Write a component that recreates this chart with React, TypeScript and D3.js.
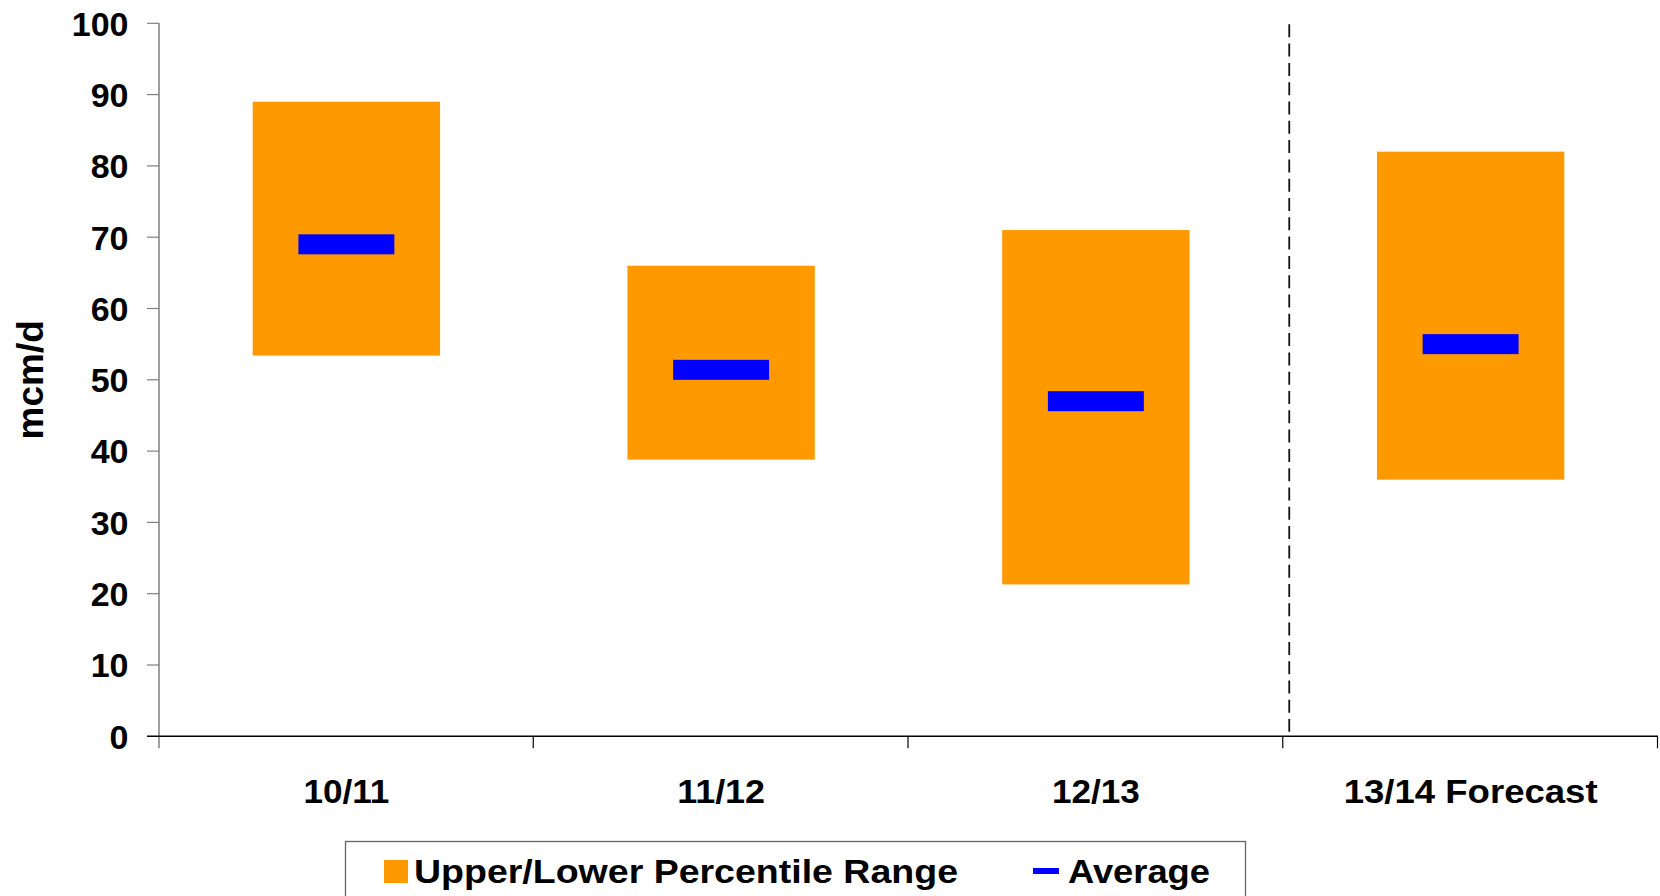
import React from 'react';
import * as d3 from 'd3';

// Seasonal demand ranges (mcm/d)
const categories = ['10/11', '11/12', '12/13', '13/14 Forecast'];
const upperPercentile = [89, 66, 71, 82];
const lowerPercentile = [53.4, 38.8, 21.3, 36];
const averageValues = [69, 51.4, 47, 55];
const yTickValues = [0, 10, 20, 30, 40, 50, 60, 70, 80, 90, 100];
const forecastCategory = '13/14 Forecast';
const legendLabels = ['Upper/Lower Percentile Range', 'Average'];
const yAxisTitle = 'mcm/d';

const WIDTH = 1660;
const HEIGHT = 896;
const FONT = "'Liberation Sans', Arial, Helvetica, sans-serif";
const ORANGE = '#FF9900';
const BLUE = '#0000FF';
const AXIS_GREY = '#808080';

// Rendered widths for the wider-set label text
const categoryLabelWidth: Record<string, number> = {
  '10/11': 86,
  '11/12': 88,
  '12/13': 88,
  '13/14 Forecast': 254,
};
const legendLabelWidth = [544, 142];

export default function App() {
  const x = d3.scaleBand<string>().domain(categories).range([159, 1658]).paddingInner(0).paddingOuter(0);
  const y = d3.scaleLinear().domain([0, 100]).range([736.3, 23.3]);
  const bw = x.bandwidth();

  const boxWidth = bw * 0.5;
  const markerWidth = bw * 0.256;
  const markerHeight = 20;

  const boundaries = categories.map((c) => x(c) as number).concat([x.range()[1]]);
  const dividerX = (x(forecastCategory) as number) + 6;

  return (
    <svg
      width={WIDTH}
      height={HEIGHT}
      style={{ position: 'absolute', left: 0, top: 0, background: '#fff' }}
      fontFamily={FONT}
      fontWeight="bold"
    >
      <rect x={0} y={0} width={WIDTH} height={HEIGHT} fill="#fff" />

      {/* percentile range boxes */}
      {categories.map((c, i) => (
        <rect
          key={`box-${c}`}
          x={(x(c) as number) + (bw - boxWidth) / 2}
          y={y(upperPercentile[i])}
          width={boxWidth}
          height={y(lowerPercentile[i]) - y(upperPercentile[i])}
          fill={ORANGE}
        />
      ))}

      {/* average markers */}
      {categories.map((c, i) => (
        <rect
          key={`avg-${c}`}
          x={(x(c) as number) + (bw - markerWidth) / 2}
          y={y(averageValues[i]) - markerHeight / 2}
          width={markerWidth}
          height={markerHeight}
          fill={BLUE}
        />
      ))}

      {/* forecast divider */}
      <line
        x1={dividerX}
        x2={dividerX}
        y1={y(100) + 1}
        y2={y(0) - 4.5}
        stroke="#111"
        strokeWidth={1.8}
        strokeDasharray="13 6.3"
      />

      {/* y axis */}
      <line x1={159} x2={159} y1={y(100)} y2={y(0) + 12} stroke={AXIS_GREY} strokeWidth={1.5} />
      {yTickValues.map((t) => (
        <g key={`yt-${t}`}>
          {t !== 0 && (
            <line x1={147} x2={159} y1={y(t)} y2={y(t)} stroke={AXIS_GREY} strokeWidth={1.2} />
          )}
          <text x={128.5} y={y(t) + 12.3} textAnchor="end" fontSize={34} fill="#000">
            {t}
          </text>
        </g>
      ))}

      {/* x axis */}
      <line x1={147} x2={x.range()[1]} y1={y(0)} y2={y(0)} stroke="#000" strokeWidth={1.5} />
      {boundaries.slice(1).map((b, i) => (
        <line key={`xt-${i}`} x1={b - 0.5} x2={b - 0.5} y1={y(0)} y2={y(0) + 12} stroke="#000" strokeWidth={1.2} />
      ))}
      {categories.map((c) => (
        <text
          key={`xl-${c}`}
          x={(x(c) as number) + bw / 2}
          y={803.3}
          textAnchor="middle"
          fontSize={33}
          textLength={categoryLabelWidth[c]}
          lengthAdjust="spacingAndGlyphs"
          fill="#000"
        >
          {c}
        </text>
      ))}

      {/* y axis title */}
      <text
        transform={`translate(42.5, ${(y(0) + y(100)) / 2}) rotate(-90)`}
        textAnchor="middle"
        fontSize={37}
        fill="#000"
      >
        {yAxisTitle}
      </text>

      {/* legend */}
      <rect x={345.5} y={841.5} width={900} height={80} fill="#fff" stroke="#666" strokeWidth={1.3} />
      <rect x={384} y={860} width={24} height={23} fill={ORANGE} />
      <text
        x={414}
        y={883}
        fontSize={33}
        textLength={legendLabelWidth[0]}
        lengthAdjust="spacingAndGlyphs"
        fill="#000"
      >
        {legendLabels[0]}
      </text>
      <rect x={1033} y={868} width={26} height={6} fill={BLUE} />
      <text
        x={1068}
        y={883}
        fontSize={33}
        textLength={legendLabelWidth[1]}
        lengthAdjust="spacingAndGlyphs"
        fill="#000"
      >
        {legendLabels[1]}
      </text>
    </svg>
  );
}
